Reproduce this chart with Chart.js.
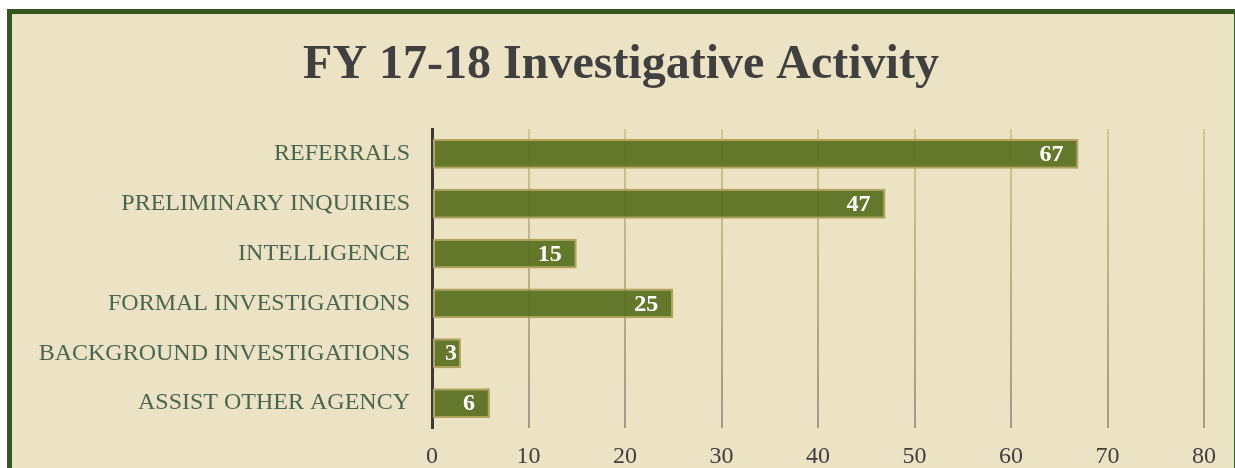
<!DOCTYPE html>
<html>
<head>
<meta charset="utf-8">
<script src="https://cdn.jsdelivr.net/npm/chart.js@4.4.0/dist/chart.umd.min.js"></script>
<style>
html,body{margin:0;padding:0;background:#fff;overflow:hidden;width:1235px;height:468px;}
#frame{position:absolute;left:7px;top:9px;width:1222px;height:470px;border:5px solid #34561f;background:#ece2c4;}
#wrap{position:absolute;left:0;top:0;width:1235px;height:468px;}
</style>
</head>
<body>
<div id="frame"></div>
<div id="wrap"><canvas id="c" width="1235" height="468"></canvas></div>
<script>
const categories = ["REFERRALS","PRELIMINARY INQUIRIES","INTELLIGENCE","FORMAL INVESTIGATIONS","BACKGROUND INVESTIGATIONS","ASSIST OTHER AGENCY"];
const values = [67,47,15,25,3,6];
const xTicks = [0,10,20,30,40,50,60,70,80];
const titleText = "FY 17-18 Investigative Activity";

const valueLabels = {
  id:'valueLabels',
  afterDatasetsDraw(chart){
    const ctx = chart.ctx;
    const meta = chart.getDatasetMeta(0);
    ctx.save();
    ctx.font = 'bold 24px "Liberation Serif"';
    ctx.fillStyle = '#ffffff';
    ctx.textAlign = 'right';
    ctx.textBaseline = 'middle';
    meta.data.forEach((bar,i)=>{
      const txt = String(values[i]);
      const w = ctx.measureText(txt).width;
      let x = bar.x - 15;
      if (x - w < bar.base + 12) x = bar.base + 12 + w;
      ctx.fillText(txt, x, bar.y + 1);
    });
    ctx.restore();
  }
};

new Chart(document.getElementById('c'), {
  type:'bar',
  data:{
    labels:categories,
    datasets:[{
      data:values,
      backgroundColor:'rgba(88,111,29,0.92)',
      borderColor:'#b3a35a',
      borderWidth:2,
      borderSkipped:false,
      barPercentage:0.6,
      categoryPercentage:1
    }]
  },
  options:{
    indexAxis:'y',
    responsive:false,
    animation:false,
    devicePixelRatio:1,
    layout:{padding:{left:38,right:31,top:0,bottom:0}},
    plugins:{
      legend:{display:false},
      tooltip:{enabled:false},
      title:{
        display:true,
        text:titleText,
        color:'#404040',
        font:{family:'"Liberation Serif"',size:48,weight:'bold',lineHeight:1.2},
        padding:{top:37,bottom:34.4}
      }
    },
    scales:{
      x:{
        min:0,max:80,
        afterBuildTicks(s){ s.ticks = xTicks.map(v=>({value:v})); },
        afterFit(s){ s.height = 40; },
        border:{display:false},
        grid:{
          drawTicks:false,
          lineWidth:2,
          color(ctx){
            const ch = ctx.chart; const a = ch.chartArea;
            if(!a) return '#bfae88';
            const g = ch.ctx.createLinearGradient(0,a.top,0,a.bottom);
            g.addColorStop(0,'#d9c48e');
            g.addColorStop(1,'#a39a86');
            return g;
          }
        },
        ticks:{
          color:'#404040',
          font:{family:'"Liberation Serif"',size:24},
          padding:14
        }
      },
      y:{
        afterFit(s){ s.width = 394; },
        border:{display:true,color:'#3a3a3a',width:3},
        grid:{display:false,drawTicks:false},
        ticks:{
          color:'#4a6650',
          font:{family:'"Liberation Serif"',size:24},
          padding:22
        }
      }
    }
  },
  plugins:[valueLabels]
});
</script>
</body>
</html>
